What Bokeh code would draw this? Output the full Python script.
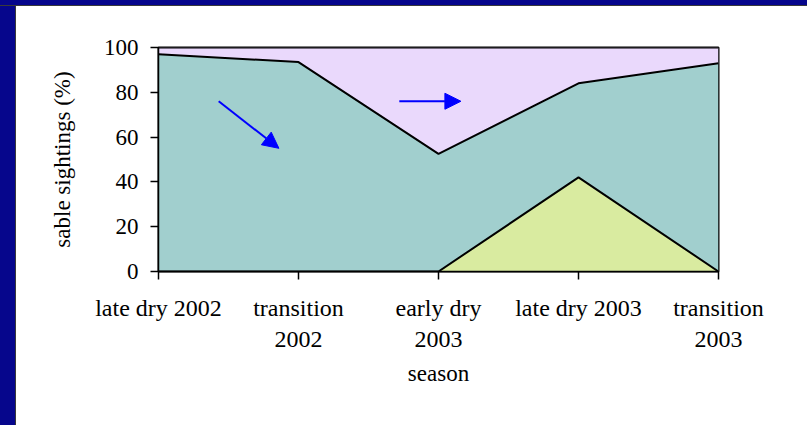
from bokeh.plotting import figure
from bokeh.layouts import column, row
from bokeh.models import ColumnDataSource, Range1d, FixedTicker, Arrow, NormalHead
from bokeh.embed import file_html
from bokeh.resources import INLINE

# ---- data ----
seasons = ["late dry 2002", "transition\n2002", "early dry\n2003", "late dry 2003", "transition\n2003"]
green_vals = [0, 0, 0, 42, 0]
teal_vals = [97, 93.5, 52.5, 42, 93]
purple_vals = [3, 6.5, 47.5, 16, 7]
y_ticks = [0, 20, 40, 60, 80, 100]

# arrows (data coordinates)
arrow1_start = (0.43, 76)
arrow1_end = (0.86, 55)
arrow2_start = (1.72, 76)
arrow2_end = (2.16, 76)

FONT = "Liberation Serif"
SLIDE_BLUE = "#06068C"

x = list(range(len(seasons)))
teal_top = [g + t for g, t in zip(green_vals, teal_vals)]
total_top = [a + b for a, b in zip(teal_top, purple_vals)]

src = ColumnDataSource(dict(x=x, green=green_vals, teal=teal_vals, purple=purple_vals))

p = figure(width=791, height=419, output_backend="svg", toolbar_location=None,
           x_range=Range1d(0, len(seasons) - 1), y_range=Range1d(0, 100),
           min_border_left=142, min_border_right=89, min_border_top=41, min_border_bottom=154)

p.varea_stack(["green", "teal", "purple"], x="x", source=src,
              color=["#D9EBA0", "#A1CFCE", "#EAD9FC"])
p.line(x, green_vals, line_color="black", line_width=2)
p.line(x, teal_top, line_color="black", line_width=2)
p.line(x, total_top, line_color="black", line_width=2)

for s, e in [(arrow1_start, arrow1_end), (arrow2_start, arrow2_end)]:
    p.add_layout(Arrow(x_start=s[0], y_start=s[1], x_end=e[0], y_end=e[1],
                       line_color="#0000FF", line_width=2,
                       end=NormalHead(size=16, fill_color="#0000FF", line_color="#0000FF")))

p.xgrid.visible = False
p.ygrid.visible = False
p.outline_line_color = "black"
p.outline_line_width = 2
p.background_fill_color = "white"
p.border_fill_color = "white"

p.yaxis.ticker = FixedTicker(ticks=y_ticks)
p.xaxis.ticker = FixedTicker(ticks=x)
p.xaxis.major_label_overrides = {i: s for i, s in enumerate(seasons)}

for ax in [p.xaxis[0], p.yaxis[0]]:
    ax.major_tick_out = 8
    ax.major_tick_in = 0
    ax.minor_tick_out = 0
    ax.minor_tick_in = 0
    ax.axis_line_color = "black"
    ax.axis_line_width = 1.5
    ax.major_tick_line_color = "black"
    ax.major_tick_line_width = 1.5
    ax.major_label_text_font = FONT
    ax.major_label_text_color = "black"
    ax.axis_label_text_font = FONT
    ax.axis_label_text_font_size = "23px"
    ax.axis_label_text_font_style = "normal"
    ax.axis_label_text_color = "black"

p.xaxis.major_label_text_font_size = "24px"
p.yaxis.major_label_text_font_size = "23px"

p.yaxis.axis_label = "sable sightings (%)"
p.yaxis.major_label_standoff = 12
p.yaxis.axis_label_standoff = 26
p.xaxis.axis_label = "season"
p.xaxis.major_label_standoff = 15
p.xaxis.axis_label_standoff = 6


def strip(w, h, shadow):
    f = figure(width=w, height=h, output_backend="svg", toolbar_location=None, min_border=0)
    f.axis.visible = False
    f.grid.visible = False
    f.outline_line_color = None
    f.background_fill_alpha = 0
    f.border_fill_alpha = 0
    f.styles = {"background-color": SLIDE_BLUE, "box-shadow": shadow}
    return f


top_strip = strip(807, 6, "inset 0 -1px 0 #3a3a3a")
left_strip = strip(16, 419, "inset -1px 0 0 #3a3a3a")

layout = column(top_strip, row(left_strip, p, spacing=0), spacing=0)

open("out.html", "w").write(file_html(layout, INLINE))
